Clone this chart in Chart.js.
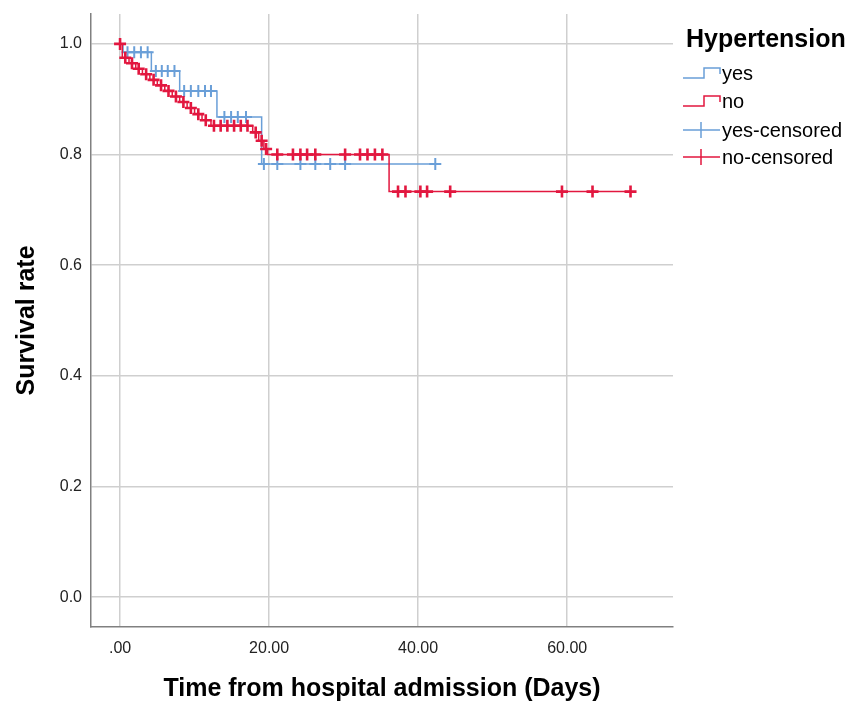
<!DOCTYPE html>
<html>
<head>
<meta charset="utf-8">
<title>Survival by hypertension</title>
<script src="https://cdn.jsdelivr.net/npm/chart.js@4.4.0/dist/chart.umd.min.js"></script>
<style>
  html, body { margin: 0; padding: 0; background: #fff; }
</style>
</head>
<body>
<canvas id="km" width="848" height="704"></canvas>
<script>
// Kaplan-Meier steps (days, survival after the drop)
const yesTimes = [0.4, 4.2, 8.0, 13.0, 19.0];
const yesSurv = [0.985, 0.951, 0.915, 0.868, 0.783];
const yesCensored = [1.0, 1.9, 2.8, 3.7, 4.8, 5.6, 6.4, 7.3, 8.6, 9.5, 10.5, 11.4, 12.2,
  14.0, 14.9, 15.8, 16.9, 19.3, 21.1, 24.2, 26.2, 28.2, 30.2, 42.3];

const noTimes = [0.3, 1.2, 2.1, 3.0, 4.0, 5.0, 6.0, 7.0, 8.0, 9.0, 10.0, 11.0, 12.2,
  17.8, 18.6, 19.3, 19.8, 36.1];
const noSurv = [0.975, 0.965, 0.955, 0.945, 0.935, 0.925, 0.915, 0.905, 0.895, 0.884, 0.873, 0.862, 0.852,
  0.84, 0.825, 0.81, 0.80, 0.733];
const noCensored = [0, 0.7, 1.6, 2.5, 3.5, 4.5, 5.5, 6.5, 7.5, 8.5, 9.5, 10.5, 11.5,
  12.6, 13.5, 14.4, 15.3, 16.2, 17.1, 18.2, 19.0, 19.6, 21.1, 23.2, 24.2, 25.1, 26.2,
  30.2, 32.2, 33.2, 34.2, 35.2, 37.3, 38.3, 40.3, 41.2, 44.3, 59.3, 63.4, 68.5];

const xTickValues = [0, 20, 40, 60];
const yTickValues = [0, 0.2, 0.4, 0.6, 0.8, 1.0];
const legendLabels = ["yes", "no", "yes-censored", "no-censored"];

const blue = "#6a9fd8";
const red = "#e2173f";

function survAt(times, surv, t) {
  let s = 1;
  for (let i = 0; i < times.length; i++) {
    if (times[i] <= t) s = surv[i];
  }
  return s;
}

function stepPoints(times, surv, censored) {
  const pts = [{x: 0, y: 1}];
  for (let i = 0; i < times.length; i++) pts.push({x: times[i], y: surv[i]});
  const end = Math.max(...censored);
  pts.push({x: end, y: survAt(times, surv, end)});
  return pts;
}

function censorPoints(times, surv, censored) {
  return censored.map(t => ({x: t, y: survAt(times, surv, t)}));
}

const font = '"Liberation Sans", Arial, sans-serif';

// legend drawn by hand so the step icons look like the SPSS ones
const kmLegend = {
  id: "kmLegend",
  afterDraw(chart) {
    const ctx = chart.ctx;
    const x0 = chart.chartArea.right + 10;
    ctx.save();
    ctx.fillStyle = "#000";
    ctx.textBaseline = "middle";
    ctx.font = "bold 25px " + font;
    ctx.fillText("Hypertension", x0 + 3, 40);

    const rows = [73, 101, 130, 157];
    const colors = [blue, red, blue, red];
    ctx.font = "20px " + font;
    for (let i = 0; i < 4; i++) {
      const y = rows[i];
      ctx.strokeStyle = colors[i];
      ctx.lineWidth = 1.5;
      ctx.beginPath();
      if (i < 2) {
        ctx.moveTo(x0, y + 5);
        ctx.lineTo(x0 + 21, y + 5);
        ctx.lineTo(x0 + 21, y - 5);
        ctx.lineTo(x0 + 37, y - 5);
        ctx.lineTo(x0 + 37, y + 1);
      } else {
        ctx.moveTo(x0, y);
        ctx.lineTo(x0 + 37, y);
        ctx.moveTo(x0 + 18, y - 8);
        ctx.lineTo(x0 + 18, y + 8);
      }
      ctx.stroke();
      ctx.fillStyle = "#000";
      ctx.fillText(legendLabels[i], x0 + 39, y + 1);
    }
    ctx.restore();
  }
};

new Chart("km", {
  type: "line",
  data: {
    datasets: [
      {
        label: "no-censored",
        type: "scatter",
        data: censorPoints(noTimes, noSurv, noCensored),
        pointStyle: "cross",
        pointRadius: 6,
        pointBorderWidth: 2.6,
        borderColor: red,
        backgroundColor: red,
        showLine: false
      },
      {
        label: "no",
        data: stepPoints(noTimes, noSurv, noCensored),
        stepped: true,
        borderColor: red,
        borderWidth: 1.5,
        pointRadius: 0,
        fill: false
      },
      {
        label: "yes-censored",
        type: "scatter",
        data: censorPoints(yesTimes, yesSurv, yesCensored),
        pointStyle: "cross",
        pointRadius: 6,
        pointBorderWidth: 2,
        borderColor: blue,
        backgroundColor: blue,
        showLine: false
      },
      {
        label: "yes",
        data: stepPoints(yesTimes, yesSurv, yesCensored),
        stepped: true,
        borderColor: blue,
        borderWidth: 1.5,
        pointRadius: 0,
        fill: false
      }
    ]
  },
  options: {
    responsive: false,
    animation: false,
    layout: { padding: { top: 14, right: 175, left: 12, bottom: 0 } },
    plugins: {
      legend: { display: false },
      tooltip: { enabled: false }
    },
    scales: {
      x: {
        type: "linear",
        min: -3.9,
        max: 74.2,
        afterBuildTicks: s => { s.ticks = xTickValues.map(v => ({value: v})); },
        afterFit: s => { s.height = 77; s.paddingLeft = 0; s.paddingRight = 0; },
        grid: { color: "#cfcfcf", lineWidth: 1.5, drawTicks: false },
        border: { color: "#808080", width: 1.5 },
        ticks: {
          padding: 12,
          color: "#222",
          font: { family: font, size: 16 },
          maxRotation: 0,
          callback: v => v === 0 ? ".00" : v.toFixed(2)
        },
        title: {
          display: true,
          text: "Time from hospital admission (Days)",
          color: "#000",
          font: { family: font, size: 25, weight: "bold" },
          padding: 0
        }
      },
      y: {
        min: -0.054,
        max: 1.054,
        afterBuildTicks: s => { s.ticks = yTickValues.map(v => ({value: v})); },
        afterFit: s => { s.width = 79; s.paddingTop = 0; s.paddingBottom = 0; },
        grid: { color: "#cfcfcf", lineWidth: 1.5, drawTicks: false },
        border: { color: "#808080", width: 1.5 },
        ticks: {
          padding: 9,
          color: "#222",
          font: { family: font, size: 16 },
          callback: v => v.toFixed(1)
        },
        title: {
          display: true,
          text: "Survival rate",
          color: "#000",
          font: { family: font, size: 25, weight: "bold" },
          padding: 0
        }
      }
    }
  },
  plugins: [kmLegend]
});
</script>
</body>
</html>
